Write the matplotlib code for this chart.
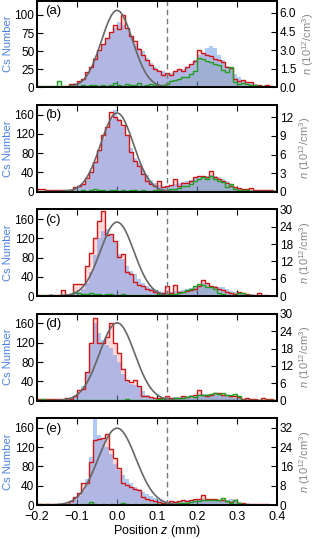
import numpy as np
import matplotlib

matplotlib.use("Agg")
import matplotlib.pyplot as plt  # noqa: E402

plt.rcParams["font.family"] = ["Liberation Sans", "DejaVu Sans"]
plt.rcParams["mathtext.fontset"] = "custom"
plt.rcParams["mathtext.it"] = "Liberation Sans:italic"
plt.rcParams["mathtext.rm"] = "Liberation Sans"

BLUE = "cornflowerblue"
RED = "#d01515"
GREEN = "#1f9e1f"
GRAY = "#666666"

# 0.01 mm bins from -0.2 to 0.4 mm
edges = np.round(np.linspace(-0.2, 0.4, 61), 3)
labels = ["(a)", "(b)", "(c)", "(d)", "(e)"]
cut_z = 0.125

# Cs number per bin (left axis)
a_blue = [1, 1, 1, 1, 1, 1, 2, 2, 4, 6, 8, 12, 20, 28, 40, 52, 60, 68, 76, 82,
          90, 86, 80, 70, 60, 55, 50, 40, 34, 28, 24, 22, 20, 20, 22, 24, 25, 28, 32, 38,
          45, 48, 54, 57, 55, 45, 38, 30, 26, 18, 14, 10, 8, 6, 4, 3, 2, 2, 1, 1]
b_blue = [1, 1, 1, 2, 2, 2, 3, 3, 4, 6, 10, 15, 25, 40, 60, 85, 110, 130, 150, 170,
          150, 135, 115, 90, 70, 60, 45, 35, 25, 18, 14, 12, 12, 13, 16, 18, 20, 22, 24, 28,
          30, 32, 33, 34, 32, 30, 26, 22, 16, 10, 8, 6, 4, 4, 3, 4, 2, 2, 1, 1]
c_blue = [2, 3, 3, 4, 3, 3, 4, 4, 5, 6, 8, 14, 28, 50, 85, 120, 135, 140, 130, 115,
          88, 78, 62, 52, 45, 36, 28, 22, 16, 12, 10, 9, 10, 9, 10, 10, 12, 14, 16, 20,
          24, 28, 26, 22, 22, 20, 18, 14, 10, 8, 8, 6, 5, 4, 3, 3, 2, 2, 1, 1]
d_blue = [2, 2, 2, 3, 3, 3, 3, 4, 5, 8, 15, 30, 60, 115, 160, 140, 125, 115, 110, 95,
          80, 55, 40, 35, 33, 30, 20, 12, 8, 6, 5, 5, 6, 6, 8, 8, 10, 10, 12, 12,
          14, 14, 13, 14, 14, 13, 12, 10, 8, 6, 5, 4, 3, 3, 2, 2, 2, 1, 1, 1]
e_blue = [2, 3, 3, 3, 3, 2, 3, 3, 6, 10, 18, 30, 55, 100, 178, 145, 140, 120, 105, 85,
          72, 62, 55, 45, 38, 34, 28, 22, 18, 14, 10, 8, 7, 7, 8, 8, 9, 10, 10, 11,
          12, 12, 12, 11, 11, 10, 10, 10, 12, 11, 6, 4, 4, 3, 3, 2, 2, 2, 1, 1]

# density n (1e12/cm^3) per bin (right axis), two sample sets
a_red = [0.05, 0.05, 0.05, 0.05, 0.05, 0.0, 0.05, 0.1, 0.25, 0.3, 0.5, 0.7, 1.2, 1.6, 2.3, 3.0, 3.5, 4.0, 4.5, 5.0,
         4.7, 5.8, 4.8, 4.1, 3.7, 3.1, 2.6, 2.2, 1.8, 1.5, 1.3, 1.0, 1.15, 1.0, 1.3, 1.5, 1.3, 1.6, 1.9, 2.1,
         3.0, 2.8, 2.6, 2.5, 2.3, 2.2, 2.0, 1.6, 1.55, 0.7, 0.5, 0.6, 0.4, 0.45, 0.2, 0.2, 0.1, 0.2, 0.1, 0.05]
b_red = [0.4, 0.4, 0.2, 0.2, 0.2, 0.2, 0.3, 0.2, 0.3, 0.7, 0.9, 1.3, 2.2, 3.2, 4.8, 6.7, 9.1, 10.5, 12.8, 12.0,
         11.5, 10.7, 9.1, 6.4, 5.0, 4.2, 2.9, 1.8, 1.3, 1.0, 1.7, 0.75, 1.0, 1.1, 2.1, 1.0, 1.45, 1.45, 1.7, 2.4,
         2.5, 2.6, 2.4, 3.3, 2.4, 2.1, 1.8, 1.45, 1.0, 0.75, 0.6, 0.5, 0.4, 0.6, 0.3, 0.2, 0.3, 0.3, 0.2, 0.1]
c_red = [0.3, 0.2, 0.5, 0.3, 0.4, 0.3, 2.3, 0.5, 0.9, 4.1, 4.1, 4.3, 10.5, 15, 20, 26, 29.5, 21, 21.5, 19,
         13.5, 14.5, 8.5, 7.5, 5, 4, 3.5, 2.5, 2, 1.5, 1.2, 1, 3.5, 1, 4, 1.5, 1.5, 1.8, 2, 2.5,
         3.5, 5.6, 4.5, 3.5, 3, 2.5, 2, 1.5, 1, 0.8, 1.5, 1, 0.6, 0.5, 0.4, 1.2, 0.4, 0.3, 0.2, 0.2]
d_red = [0.5, 0.6, 0.4, 0.6, 0.5, 0.6, 0.5, 0.8, 0.6, 1.7, 3.5, 4.0, 10, 19.8, 28.5, 19.8, 20, 22, 27, 19.8,
         16.3, 11, 7, 6.4, 7, 5.2, 1.7, 1.5, 1.2, 0.8, 0.8, 0.8, 1.5, 1.0, 0.8, 1.0, 1.5, 1.2, 1.5, 2.0,
         3.5, 2.0, 1.5, 2.0, 2.5, 2.5, 2.0, 1.8, 1.5, 1.5, 1.2, 0.5, 0.8, 0.5, 0.5, 0.3, 0.8, 0.5, 0.5, 0.3]
e_red = [0.5, 0.5, 0.4, 0.5, 0.6, 0.5, 0.5, 0.6, 1.7, 3.4, 4.8, 9, 9, 18, 27, 27.3, 28, 29.5, 23.4, 19.6,
         15.2, 9, 8.3, 7.6, 6.6, 6.2, 3.4, 2.5, 2, 1.5, 1.2, 1.0, 0.8, 1.5, 1.2, 1.5, 2.0, 1.5, 2.0, 2.5,
         2.5, 4.1, 2.5, 2.5, 2.5, 2.0, 2.0, 1.5, 1.2, 2.0, 1.0, 0.8, 0.6, 0.5, 0.5, 0.3, 0.3, 0.3, 0.2, 0.2]

a_green = [0.1, 0.1, 0.1, 0.1, 0.1, 0.5, 0.1, 0.05, 0.15, 0.1, 0.1, 0.15, 0.1, 0.2, 0.15, 0.1, 0.2, 0.1, 0.15, 0.35,
           0.2, 0.1, 0.3, 0.15, 0.2, 0.35, 0.1, 0.15, 0.3, 0.15, 0.2, 0.2, 0.3, 0.5, 0.6, 0.7, 0.8, 0.8, 1.1, 1.3,
           2.4, 2.3, 2.1, 2.0, 1.9, 1.8, 1.4, 1.2, 1.6, 0.4, 0.3, 0.35, 0.25, 0.2, 0.15, 0.1, 0.1, 0.05, 0.05, 0.05]
b_green = [0.1, 0.1, 0.1, 0.1, 0.1, 0.1, 0.1, 0.2, 0.1, 0.1, 0.1, 0.2, 0.1, 0.2, 0.5, 0.2, 0.3, 0.1, 0.2, 0.3,
           0.1, 0.2, 0.1, 0.3, 0.2, 0.1, 0.2, 0.1, 0.1, 0.2, 0.2, 0.3, 0.3, 0.4, 0.5, 0.6, 0.9, 1.0, 1.3, 1.8,
           2.0, 2.3, 2.0, 2.5, 2.0, 1.8, 1.6, 0.8, 1.2, 0.4, 0.3, 0.2, 0.2, 0.1, 0.1, 0.1, 0.1, 0.1, 0.1, 0.1]
c_green = [0.2, 0.3, 0.2, 0.3, 0.2, 0.3, 0.5, 0.3, 0.8, 1.4, 1.0, 0.6, 0.8, 1.0, 0.9, 0.6, 0.5, 0.8, 0.6, 0.5,
           0.4, 0.6, 0.5, 0.4, 0.5, 0.3, 0.4, 0.5, 0.4, 0.5, 0.6, 0.5, 0.7, 0.8, 0.9, 1.0, 1.5, 2.0, 2.5, 3.5,
           4.3, 4.0, 3.0, 3.0, 2.5, 1.0, 0.8, 0.5, 0.4, 0.3, 1.0, 1.0, 0.3, 0.3, 0.2, 0.2, 0.1, 0.1, 0.1, 0.1]
d_green = [0.3, 0.5, 0.2, 0.3, 0.2, 0.3, 0.2, 0.3, 0.2, 0.3, 0.2, 0.3, 0.3, 0.2, 0.2, 0.3, 0.2, 0.3, 0.2, 0.3,
           0.2, 0.3, 0.4, 0.3, 0.2, 0.3, 0.2, 0.3, 0.3, 0.3, 0.4, 0.5, 0.6, 0.7, 0.8, 0.8, 1.0, 1.2, 1.5, 1.4,
           2.0, 2.0, 1.8, 2.2, 2.5, 2.2, 2.5, 2.0, 2.0, 2.2, 1.5, 0.3, 0.2, 0.2, 0.1, 0.1, 0.1, 0.1, 0.1, 0.1]
e_green = [0.3, 0.2, 0.3, 0.2, 0.2, 0.3, 0.2, 0.3, 0.2, 0.3, 0.2, 0.3, 0.3, 1.4, 0.3, 0.2, 0.3, 0.2, 0.3, 0.2,
           0.3, 1.0, 0.3, 0.2, 0.3, 0.2, 0.3, 0.3, 0.4, 0.3, 0.4, 0.5, 0.5, 0.5, 0.6, 0.8, 1.0, 1.0, 1.2, 1.5,
           1.5, 2.0, 2.0, 2.0, 2.0, 2.0, 2.8, 1.5, 1.0, 2.0, 1.0, 0.3, 0.2, 0.2, 0.1, 0.1, 0.1, 0.1, 0.1, 0.1]

# gaussian model (right axis units) and axis ranges per panel
fit_amp = [6.2, 12.7, 25.6, 26.9, 31.9]
fit_sigma = [0.039, 0.041, 0.042, 0.044, 0.047]
left_max = [120, 180, 180, 180, 180]
left_ticks = [[0, 25, 50, 75, 100]] + [[0, 40, 80, 120, 160]] * 4
right_max = [7, 14, 30, 30, 36]
right_ticks = [[0, 1.5, 3, 4.5, 6], [0, 3, 6, 9, 12], [0, 6, 12, 18, 24, 30],
               [0, 6, 12, 18, 24, 30], [0, 8, 16, 24, 32]]

blues = [a_blue, b_blue, c_blue, d_blue, e_blue]
reds = [a_red, b_red, c_red, d_red, e_red]
greens = [a_green, b_green, c_green, d_green, e_green]

fig, axes = plt.subplots(5, 1, figsize=(3.17, 5.39), dpi=100, sharex=True)
fig.subplots_adjust(left=0.117, right=0.874, top=0.999, bottom=0.063, hspace=0.204)

zz = np.linspace(-0.2, 0.4, 500)
for k, ax in enumerate(axes):
    ax2 = ax.twinx()
    ax.set_xlim(-0.2, 0.4)
    ax.set_ylim(0, left_max[k])
    ax2.set_ylim(0, right_max[k])

    # fills of the two sample sets, then the Cs counts (left-axis units) over them
    ax2.stairs(reds[k], edges, fill=True, color="red", alpha=0.15, lw=0)
    ax2.stairs(greens[k], edges, fill=True, color="green", alpha=0.15, lw=0)
    ax2.stairs(blues[k], edges, fill=True, color=BLUE, alpha=0.5, lw=0,
               transform=ax.transData)
    ax2.stairs(reds[k], edges, color=RED, lw=1.0)
    ax2.stairs(greens[k], edges, color=GREEN, lw=1.0)
    ax2.plot(zz, fit_amp[k] * np.exp(-zz ** 2 / (2 * fit_sigma[k] ** 2)), color=GRAY, lw=1.2)
    ax2.axvline(cut_z, color="#777777", ls=(0, (4, 2.5)), lw=1.0)
    ax2.set_ylim(0, right_max[k])

    ax.set_yticks(left_ticks[k])
    ax2.set_yticks(right_ticks[k])
    if k == 0:
        ax2.set_yticklabels(["0.0", "1.5", "3.0", "4.5", "6.0"])
    ax.set_xticks([-0.2, -0.1, 0.0, 0.1, 0.2, 0.3, 0.4])
    ax.tick_params(direction="in", top=True, labelsize=8.5, length=4, width=0.8, pad=2)
    ax.tick_params(axis="x", pad=4.5, labelsize=9)
    ax2.tick_params(direction="in", labelsize=8.5, length=4, width=0.8, pad=2)
    for sp in list(ax.spines.values()) + list(ax2.spines.values()):
        sp.set_linewidth(1.3)
    ax.set_ylabel("Cs Number", color="#4a80e8", fontsize=8, labelpad=1)
    ax2.set_ylabel(r"$n$ (10$^{12}$/cm$^3$)", color="#888888", fontsize=8, labelpad=3)
    ax.text(0.035, 0.95, labels[k], transform=ax.transAxes, ha="left", va="top", fontsize=9.5)

axes[-1].set_xlabel(r"Position $z$ (mm)", fontsize=9, labelpad=0)
axes[-1].set_xticklabels(["\u22120.2", "\u22120.1", "0.0", "0.1", "0.2", "0.3", "0.4"])

fig.savefig("out.png", dpi=100)
